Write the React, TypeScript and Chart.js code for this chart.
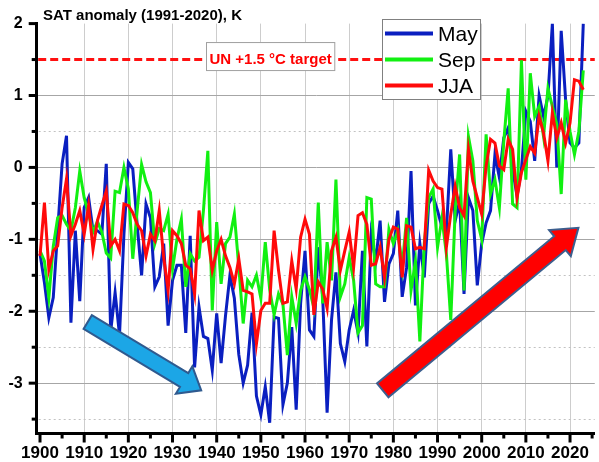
import React, { useEffect, useRef } from "react";
import { Chart, registerables } from "chart.js";

Chart.register(...registerables);

// ---------- data ----------
const YEARS = [
  1900, 1901, 1902, 1903, 1904, 1905, 1906, 1907, 1908, 1909,
  1910, 1911, 1912, 1913, 1914, 1915, 1916, 1917, 1918, 1919,
  1920, 1921, 1922, 1923, 1924, 1925, 1926, 1927, 1928, 1929,
  1930, 1931, 1932, 1933, 1934, 1935, 1936, 1937, 1938, 1939,
  1940, 1941, 1942, 1943, 1944, 1945, 1946, 1947, 1948, 1949,
  1950, 1951, 1952, 1953, 1954, 1955, 1956, 1957, 1958, 1959,
  1960, 1961, 1962, 1963, 1964, 1965, 1966, 1967, 1968, 1969,
  1970, 1971, 1972, 1973, 1974, 1975, 1976, 1977, 1978, 1979,
  1980, 1981, 1982, 1983, 1984, 1985, 1986, 1987, 1988, 1989,
  1990, 1991, 1992, 1993, 1994, 1995, 1996, 1997, 1998, 1999,
  2000, 2001, 2002, 2003, 2004, 2005, 2006, 2007, 2008, 2009,
  2010, 2011, 2012, 2013, 2014, 2015, 2016, 2017, 2018, 2019,
  2020, 2021, 2022, 2023,
];

const MAY = [
  -1.2, -1.6, -2.09, -1.81, -0.88, 0.05, 0.44, -2.16, -0.88, -1.86,
  -0.56, -0.42, -0.88, -0.88, -0.93, 0.05, -2.28, -1.74, -2.33, -0.93,
  0.07, -0.02, -0.8, -1.5, -0.51, -0.7, -1.66, -1.52, -1.06, -2.2,
  -1.57, -1.36, -1.36, -2.3, -0.95, -2.78, -1.94, -2.35, -2.38, -2.82,
  -2.03, -2.72, -2.06, -1.5, -1.82, -2.6, -3.0, -2.75, -2.02, -3.18,
  -3.44, -3.05, -3.55, -2.08, -2.1, -3.3, -3.0, -2.22, -3.37, -1.89,
  -1.16, -2.26, -2.35, -1.11, -1.8, -3.41, -2.12, -1.46, -2.45, -2.7,
  -2.26, -1.99, -2.3, -1.16, -2.49, -0.93, -1.3, -0.74, -1.87, -1.34,
  -1.2, -0.6, -1.8, -1.39, -0.05, -1.92, -1.06, -1.53, -0.5, -0.4,
  -0.6, -0.83, -0.9, 0.25, -0.74, -0.47, -1.76, -0.42, -0.6, -1.64,
  -1.06, -0.77, -0.6, 0.18, -0.14, 0.41, 0.55, -0.03, -0.4, -0.03,
  0.78, 0.64, 0.09, 1.0, 0.71, 0.99, 2.0, 0.0, 1.9, 0.94,
  0.34, 0.27, 0.34, 2.0,
];

const SEP = [
  -1.16, -1.3, -1.81, -1.1, -0.7, -0.67, -0.79, -0.88, -0.56, -0.05,
  -0.42, -0.65, -0.9, -0.75, -0.9, -1.19, -1.26, -0.33, -0.35, 0.0,
  -0.3, -1.27, -0.6, 0.04, -0.2, -0.35, -1.06, -0.85, -0.88, -0.65,
  -1.41, -1.0, -0.72, -1.66, -1.2, -1.3, -1.25, -0.6, 0.23, -1.99,
  -0.76, -1.62, -1.06, -0.97, -0.65, -1.38, -2.17, -1.57, -1.66, -1.5,
  -1.82, -1.04, -1.7, -2.05, -1.76, -1.9, -2.61, -1.8, -2.17, -1.71,
  -1.52, -1.7, -1.95, -0.49, -1.89, -1.04, -1.57, -0.17, -1.8, -1.62,
  -1.25, -1.57, -2.3, -2.2, -0.42, -0.44, -1.62, -1.66, -1.66, -0.86,
  -1.06, -0.88, -1.39, -0.7, -1.71, -1.3, -2.42, -1.06, -0.42, -0.3,
  -1.11, -0.7, -1.2, -2.12, -0.6, 0.18, -1.71, 0.43, 0.09, -0.74,
  -1.0, 0.46, -0.37, -0.17, -0.56, 0.36, 1.1, -0.51, -0.56, 1.49,
  -0.17, 1.31, 0.71, 0.85, 0.43, 1.1, 0.85, 0.6, -0.37, 0.94,
  0.5, 0.18, 0.5, 1.35,
];

const JJA = [
  -1.23, -0.49, -1.42, -1.16, -1.09, -0.56, -0.16, -0.95, -0.79, -0.6,
  -0.93, -0.53, -1.14, -0.74, -0.53, -0.33, -1.09, -1.0, -1.16, -0.51,
  -0.53, -0.63, -0.79, -0.88, -1.23, -0.93, -1.02, -0.6, -1.25, -1.71,
  -0.88, -0.95, -1.06, -1.36, -1.41, -1.76, -0.6, -1.02, -0.97, -1.43,
  -1.16, -1.0, -1.23, -1.39, -1.62, -1.27, -1.71, -1.73, -1.76, -2.45,
  -1.99, -1.89, -1.89, -0.88, -1.43, -1.89, -1.87, -1.3, -1.69, -0.97,
  -0.72, -0.93, -2.05, -1.59, -1.69, -1.96, -1.16, -0.97, -1.43, -1.16,
  -0.9, -1.39, -0.67, -0.63, -0.79, -1.36, -1.34, -1.11, -1.53, -1.0,
  -0.83, -0.86, -1.53, -0.81, -0.83, -1.13, -1.11, -1.13, -0.04, -0.19,
  -0.28, -0.3, -1.11, -0.65, -0.26, -0.56, -0.67, 0.25, -0.19, -0.42,
  -0.65, 0.02, 0.39, 0.34, 0.02, -0.03, 0.39, 0.25, -0.42, -0.07,
  0.11, 0.29, 0.2, 0.71, 0.48, 0.09, 0.76, 0.41, 0.62, 0.34,
  0.62, 1.22, 1.2, 1.08,
];

const X_TICKS = [1900, 1910, 1920, 1930, 1940, 1950, 1960, 1970, 1980, 1990, 2000, 2010, 2020];
const X_MINOR = [1905, 1915, 1925, 1935, 1945, 1955, 1965, 1975, 1985, 1995, 2005, 2015, 2025];
const Y_TICKS = [-3, -2, -1, 0, 1, 2];
const Y_MINOR = [-3.5, -2.5, -1.5, -0.5, 0.5, 1.5];
const TARGET = 1.5;
const TITLE = "SAT anomaly (1991-2020), K";
const TARGET_LABEL = "UN +1.5 °C target";
const SERIES_LABELS = ["May", "Sep", "JJA"];
// trend arrows: [year, anomaly] of tail and tip
const ARROW_COOLING = { from: [1910.8, -2.15], to: [1936.5, -3.1] };
const ARROW_WARMING = { from: [1977.6, -3.1], to: [2021.9, -0.84] };

const FONT = "'Liberation Sans', Arial, sans-serif";

function drawArrow(
  ctx: CanvasRenderingContext2D,
  x0: number, y0: number, x1: number, y1: number,
  shaftHalf: number, headHalf: number, headLen: number,
  fill: string, stroke: string
) {
  const dx = x1 - x0, dy = y1 - y0;
  const L = Math.hypot(dx, dy);
  const ux = dx / L, uy = dy / L;
  const nx = -uy, ny = ux;
  const bx = x1 - ux * headLen, by = y1 - uy * headLen;
  ctx.beginPath();
  ctx.moveTo(x0 + nx * shaftHalf, y0 + ny * shaftHalf);
  ctx.lineTo(bx + nx * shaftHalf, by + ny * shaftHalf);
  ctx.lineTo(bx + nx * headHalf, by + ny * headHalf);
  ctx.lineTo(x1, y1);
  ctx.lineTo(bx - nx * headHalf, by - ny * headHalf);
  ctx.lineTo(bx - nx * shaftHalf, by - ny * shaftHalf);
  ctx.lineTo(x0 - nx * shaftHalf, y0 - ny * shaftHalf);
  ctx.closePath();
  ctx.fillStyle = fill;
  ctx.fill();
  ctx.lineWidth = 2;
  ctx.lineJoin = "miter";
  ctx.strokeStyle = stroke;
  ctx.stroke();
}

const overlayPlugin = {
  id: "overlay",
  beforeDatasetsDraw(chart: any) {
    const { ctx, chartArea: a, scales } = chart;
    const y = scales.y;
    ctx.save();
    ctx.strokeStyle = "#c2c2c2";
    ctx.lineWidth = 1;
    ctx.setLineDash([2, 3]);
    for (const v of Y_MINOR) {
      if (v === TARGET) continue;
      const py = Math.round(y.getPixelForValue(v)) + 0.5;
      ctx.beginPath();
      ctx.moveTo(a.left + 2, py);
      ctx.lineTo(a.right, py);
      ctx.stroke();
    }
    // target line
    ctx.setLineDash([8, 4]);
    ctx.strokeStyle = "#ff1010";
    ctx.lineWidth = 3;
    const ty = y.getPixelForValue(TARGET);
    ctx.beginPath();
    ctx.moveTo(a.left + 1.5, ty);
    ctx.lineTo(a.right, ty);
    ctx.stroke();
    ctx.restore();
  },
  afterDatasetsDraw(chart: any) {
    const { ctx, scales } = chart;
    const x = scales.x, y = scales.y;
    ctx.save();
    ctx.setLineDash([]);

    // target label box
    const ty = y.getPixelForValue(TARGET);
    ctx.font = `bold 15px ${FONT}`;
    const tw = ctx.measureText(TARGET_LABEL).width;
    const bx = 206.5, bw = tw + 6;
    ctx.fillStyle = "#ffffff";
    ctx.fillRect(bx, ty - 17, bw, 28);
    ctx.strokeStyle = "#a0a0a0";
    ctx.lineWidth = 1;
    ctx.strokeRect(bx, ty - 17, bw, 28);
    ctx.fillStyle = "#ff0000";
    ctx.textAlign = "left";
    ctx.textBaseline = "alphabetic";
    ctx.fillText(TARGET_LABEL, bx + 3, ty + 4);

    // legend
    const lx = 382.5, ly = 19.5, lw = 98, lh = 80;
    ctx.fillStyle = "#ffffff";
    ctx.fillRect(lx, ly, lw, lh);
    ctx.strokeStyle = "#808080";
    ctx.lineWidth = 1;
    ctx.strokeRect(lx, ly, lw, lh);
    const rows = [33.5, 59.5, 85.5];
    chart.data.datasets.forEach((ds: any) => {
      const i = SERIES_LABELS.indexOf(ds.label);
      const ry = rows[i];
      ctx.strokeStyle = ds.borderColor;
      ctx.lineWidth = 4;
      ctx.beginPath();
      ctx.moveTo(385, ry);
      ctx.lineTo(433, ry);
      ctx.stroke();
      ctx.fillStyle = "#000000";
      ctx.font = `21px ${FONT}`;
      ctx.fillText(ds.label, 438, ry + 7.5);
    });

    // arrows
    drawArrow(
      ctx,
      x.getPixelForValue(ARROW_COOLING.from[0]), y.getPixelForValue(ARROW_COOLING.from[1]),
      x.getPixelForValue(ARROW_COOLING.to[0]), y.getPixelForValue(ARROW_COOLING.to[1]),
      8, 16, 20, "#1ca6e6", "#2f5a8f"
    );
    drawArrow(
      ctx,
      x.getPixelForValue(ARROW_WARMING.from[0]), y.getPixelForValue(ARROW_WARMING.from[1]),
      x.getPixelForValue(ARROW_WARMING.to[0]), y.getPixelForValue(ARROW_WARMING.to[1]),
      9, 17, 24, "#ff0000", "#3c5e8e"
    );

    // title
    ctx.fillStyle = "#000000";
    ctx.font = `bold 15px ${FONT}`;
    ctx.fillText(TITLE, 43, 19.5);
    ctx.restore();
  },
  afterDraw(chart: any) {
    const { ctx, chartArea: a, scales } = chart;
    const x = scales.x, y = scales.y;
    ctx.save();
    ctx.strokeStyle = "#000000";
    ctx.lineWidth = 3;
    ctx.lineCap = "butt";
    for (const v of X_TICKS) {
      const px = x.getPixelForValue(v);
      ctx.beginPath();
      ctx.moveTo(px, a.bottom);
      ctx.lineTo(px, a.bottom + 9);
      ctx.stroke();
    }
    for (const v of X_MINOR) {
      const px = x.getPixelForValue(v);
      if (px > a.right) continue;
      ctx.beginPath();
      ctx.moveTo(px, a.bottom);
      ctx.lineTo(px, a.bottom + 5);
      ctx.stroke();
    }
    for (const v of Y_TICKS) {
      const py = y.getPixelForValue(v);
      ctx.beginPath();
      ctx.moveTo(a.left, py);
      ctx.lineTo(a.left - 8, py);
      ctx.stroke();
    }
    for (const v of Y_MINOR) {
      const py = y.getPixelForValue(v);
      ctx.beginPath();
      ctx.moveTo(a.left, py);
      ctx.lineTo(a.left - 5, py);
      ctx.stroke();
    }
    ctx.restore();
  },
};

function series(values: number[]) {
  return YEARS.map((yr, i) => ({ x: yr, y: values[i] }));
}

export default function App() {
  const canvasRef = useRef<HTMLCanvasElement | null>(null);

  useEffect(() => {
    document.body.style.margin = "0";
    const canvas = canvasRef.current;
    if (!canvas) return;
    const chart = new Chart(canvas, {
      type: "line",
      data: {
        datasets: [
          {
            label: SERIES_LABELS[0],
            data: series(MAY),
            borderColor: "#0a1fc0",
            borderWidth: 3,
            pointRadius: 0,
            tension: 0,
            fill: false,
            order: 2,
          },
          {
            label: SERIES_LABELS[1],
            data: series(SEP),
            borderColor: "#11f011",
            borderWidth: 3,
            pointRadius: 0,
            tension: 0,
            fill: false,
            order: 1,
          },
          {
            label: SERIES_LABELS[2],
            data: series(JJA),
            borderColor: "#ff0a0a",
            borderWidth: 3,
            pointRadius: 0,
            tension: 0,
            fill: false,
            order: 0,
          },
        ],
      },
      options: {
        responsive: false,
        animation: false,
        devicePixelRatio: 1,
        layout: { padding: { top: 21.7, right: 1.3, left: 0, bottom: 0 } },
        plugins: {
          legend: { display: false },
          title: { display: false },
          tooltip: { enabled: false },
        },
        scales: {
          x: {
            type: "linear",
            min: 1899.25,
            max: 2025.6,
            afterBuildTicks: (s: any) => {
              s.ticks = X_TICKS.map((v) => ({ value: v }));
            },
            afterFit: (s: any) => {
              s.height = 28.5;
            },
            grid: {
              color: (c: any) => (c.tick && c.tick.value === 1900 ? "rgba(0,0,0,0)" : "#cdcdcd"),
              lineWidth: 1,
              drawTicks: false,
            },
            border: { color: "#000000", width: 3 },
            ticks: {
              color: "#000000",
              font: { family: FONT, size: 17, weight: "bold" },
              padding: 10,
              maxRotation: 0,
              autoSkip: false,
              callback: (v: any) => String(v),
            },
          },
          y: {
            type: "linear",
            min: -3.7,
            max: 2,
            afterBuildTicks: (s: any) => {
              s.ticks = Y_TICKS.map((v) => ({ value: v }));
            },
            afterFit: (s: any) => {
              s.width = 36.7;
            },
            grid: {
              color: (c: any) => (c.tick && c.tick.value === 2 ? "rgba(0,0,0,0)" : "#a6a6a6"),
              lineWidth: 1,
              drawTicks: false,
            },
            border: { color: "#000000", width: 3 },
            ticks: {
              color: "#000000",
              font: { family: FONT, size: 16, weight: "bold" },
              padding: 14,
              callback: (v: any) => String(v),
            },
          },
        },
      },
      plugins: [overlayPlugin],
    } as any);
    return () => chart.destroy();
  }, []);

  return (
    <div style={{ position: "absolute", left: 0, top: 0, width: 599, height: 462, background: "#ffffff" }}>
      <canvas ref={canvasRef} width={599} height={462} />
    </div>
  );
}
